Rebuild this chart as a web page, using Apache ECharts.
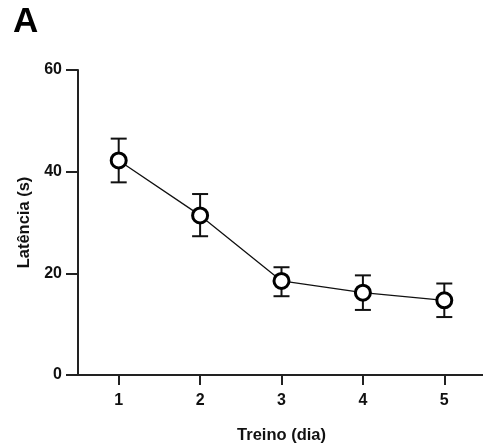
<!DOCTYPE html>
<html><head><meta charset="utf-8">
<script src="https://cdn.jsdelivr.net/npm/echarts@6/dist/echarts.min.js"></script>
<style>html,body{margin:0;padding:0;background:#fff}#c{width:483px;height:446px}</style>
</head><body><div id="c"></div>
<script>
const days = ['1','2','3','4','5'];
const means = [42.2, 31.4, 18.5, 16.2, 14.7];
const errUpper = [46.5, 35.6, 21.2, 19.6, 18.0];
const errLower = [37.9, 27.3, 15.5, 12.8, 11.4];
const yTicks = [0, 20, 40, 60];

const chart = echarts.init(document.getElementById('c'));
const font = 'Arial, "Liberation Sans", sans-serif';
chart.setOption({
  animation: false,
  title: { text: 'A', left: 8, top: 0, textStyle: { fontFamily: font, fontSize: 35, fontWeight: 'bold', color: '#000' } },
  grid: { left: 78, right: -2, top: 70, bottom: 71, containLabel: false, outerBoundsMode: 'none' },
  xAxis: {
    type: 'category', data: days, boundaryGap: true,
    name: 'Treino (dia)', nameLocation: 'middle', nameGap: 52,
    nameTextStyle: { fontFamily: font, fontSize: 16.5, fontWeight: 'bold', color: '#111' },
    axisLine: { show: true, lineStyle: { color: '#222', width: 2 } },
    axisTick: { show: true, alignWithLabel: true, interval: 0, length: 10, lineStyle: { color: '#222', width: 2 } },
    axisLabel: { fontFamily: font, fontSize: 16, fontWeight: 'bold', color: '#111', margin: 18 },
    splitLine: { show: false }
  },
  yAxis: {
    type: 'value', min: yTicks[0], max: yTicks[yTicks.length-1], interval: 20,
    name: 'Latência (s)', nameLocation: 'middle', nameGap: 45, nameRotate: 90,
    nameTextStyle: { fontFamily: font, fontSize: 16.5, fontWeight: 'bold', color: '#111' },
    axisLine: { show: true, lineStyle: { color: '#222', width: 2 } },
    axisTick: { show: true, length: 12, lineStyle: { color: '#222', width: 2 } },
    axisLabel: { fontFamily: font, fontSize: 16, fontWeight: 'bold', color: '#111', margin: 16 },
    splitLine: { show: false }
  },
  series: [
    {
      type: 'custom',
      data: days.map((d, i) => [i, errLower[i], errUpper[i]]),
      renderItem: function (params, api) {
        const lo = api.coord([api.value(0), api.value(1)]);
        const hi = api.coord([api.value(0), api.value(2)]);
        const hw = 8;
        const st = { stroke: '#111', lineWidth: 2, fill: null };
        return { type: 'group', children: [
          { type: 'line', shape: { x1: hi[0], y1: hi[1], x2: lo[0], y2: lo[1] }, style: st },
          { type: 'line', shape: { x1: hi[0]-hw, y1: hi[1], x2: hi[0]+hw, y2: hi[1] }, style: st },
          { type: 'line', shape: { x1: lo[0]-hw, y1: lo[1], x2: lo[0]+hw, y2: lo[1] }, style: st }
        ]};
      },
      z: 2
    },
    {
      type: 'line', data: means,
      symbol: 'circle', symbolSize: 15,
      lineStyle: { color: '#111', width: 1.3 },
      itemStyle: { color: '#fff', borderColor: '#000', borderWidth: 3 },
      z: 3
    }
  ]
});
</script></body></html>
